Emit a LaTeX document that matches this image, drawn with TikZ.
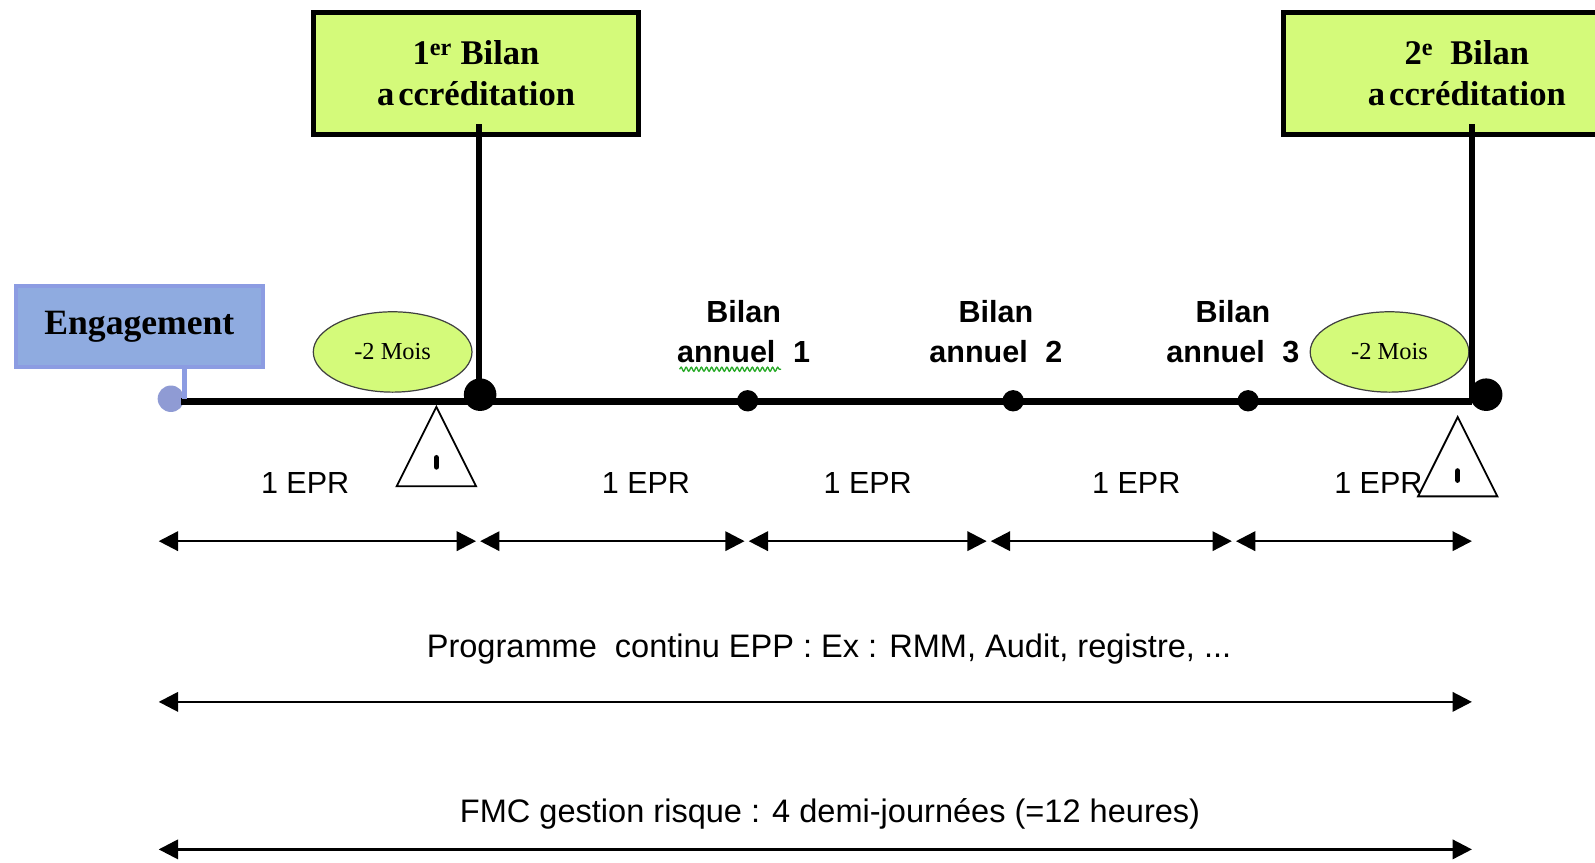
\documentclass[tikz,border=0pt]{standalone}
\usepackage{fontspec}
\setmainfont{Liberation Serif}
\setsansfont{Liberation Sans}
\usetikzlibrary{arrows.meta,shapes.geometric,decorations.pathmorphing}
\definecolor{accgreen}{RGB}{212,250,122}
\definecolor{engfill}{RGB}{143,171,224}
\definecolor{engdraw}{RGB}{140,156,226}
\definecolor{engdot}{RGB}{143,155,212}
\definecolor{wavygreen}{RGB}{40,170,40}
\tikzset{
  accbox/.style={draw=black, line width=5pt, fill=accgreen, minimum height=120pt, inner sep=0pt, align=center, font=\fontsize{34}{41}\selectfont\bfseries},
  engbox/.style={draw=engdraw, line width=4pt, fill=engfill, minimum width=243pt, minimum height=80pt, inner sep=0pt, font=\fontsize{35}{40}\selectfont\bfseries},
  moisell/.style={ellipse, draw=black!75, line width=1.2pt, fill=accgreen, minimum width=156pt, minimum height=79pt, inner sep=0pt, font=\fontsize{24}{28}\selectfont},
  bigdot/.style={circle, fill=black, minimum size=32pt, inner sep=0pt},
  smalldot/.style={circle, fill=black, minimum size=21pt, inner sep=0pt},
  engdotstyle/.style={circle, fill=engdot, minimum size=26pt, inner sep=0pt},
  annlabel/.style={align=center, font=\sffamily\bfseries\fontsize{30}{39}\selectfont},
  eprlabel/.style={font=\sffamily\fontsize{30}{34}\selectfont},
  spanlabel/.style={font=\sffamily\fontsize{32}{36}\selectfont},
  warntri/.style={isosceles triangle, isosceles triangle stretches, shape border rotate=90, draw=black, line width=1.8pt, minimum width=78pt, minimum height=78pt, inner sep=0pt, outer sep=0pt},
  warnmark/.style={line width=5.5pt, line cap=round},
  timeline/.style={line width=6.5pt},
  vline/.style={line width=6pt},
  engline/.style={draw=engdraw, line width=5pt},
  wavyline/.style={draw=wavygreen, line width=1.3pt, decorate, decoration={snake, amplitude=2pt, segment length=5pt}},
  spanarrow/.style={line width=2.5pt, {Triangle[length=19pt,width=19pt]}-{Triangle[length=19pt,width=19pt]}},
}
\begin{document}
\begin{tikzpicture}[x=1pt,y=-1pt]
\useasboundingbox (0,0) rectangle (1568,848);
\clip (0,0) rectangle (1568,848);
% ellipses
\node[moisell] (m1) at (386,346) {-2 Mois};
\node[moisell] (m2) at (1366,346) {-2 Mois};
% engagement
\node[engbox] (eng) at (137,321) {Engagement};
\node[engdotstyle] (edot) at (168,392) {};
% timeline
\coordinate (t0) at (178,395);
\coordinate (tend) at (1447,395);
\draw[timeline] (t0) -- (tend);
\draw[engline] (edot.east |- eng.south) -- (edot.east);
% accreditation boxes
\node[accbox, minimum width=320pt] (b1) at (468,72) {1\textsuperscript{er} Bilan\\a\kern4pt ccréditation};
\node[accbox, minimum width=360pt] (b2) at (1442,72) {2\textsuperscript{e}\ \ Bilan\\a\kern4pt ccréditation};
\coordinate (v1top) at (471,122);
\coordinate (v2top) at (1447,122);
\node[bigdot] (d1) at (472,388) {};
\node[bigdot] (d2) at (1461,388) {};
\draw[vline] (v1top) -- (v1top |- d1.center);
\draw[vline] (v2top) -- (tend);
% small dots
\node[smalldot] (s1) at (735,394) {};
\node[smalldot] (s2) at (996,394) {};
\node[smalldot] (s3) at (1227,394) {};
% annual labels
\node[annlabel] (ba1) at (731,326) {Bilan\\annuel\hspace{0.3em} 1};
\node[annlabel] (ba2) at (979,326) {Bilan\\annuel\hspace{0.3em} 2};
\node[annlabel] (ba3) at (1212,326) {Bilan\\annuel\hspace{0.3em} 3};
\draw[wavyline] (668,363) -- (768,363);
% EPR labels
\node[eprlabel] (e1) at (300,475) {1 EPR};
\node[eprlabel] (e2) at (635,475) {1 EPR};
\node[eprlabel] (e3) at (853,475) {1 EPR};
\node[eprlabel] (e4) at (1117,475) {1 EPR};
\node[eprlabel] (e5) at (1355,475) {1 EPR};
% warning triangles
\node[warntri, anchor=apex] (w1) at (429,400) {};
\node[warntri, anchor=apex] (w2) at (1433,410) {};
\draw[warnmark] ([yshift=-50pt]w1.apex) -- ([yshift=-59pt]w1.apex);
\draw[warnmark] ([yshift=-53pt]w2.apex) -- ([yshift=-62pt]w2.apex);
% EPR spans
\coordinate (r0) at (156,532);
\coordinate (r1a) at (468,532);
\coordinate (r1b) at (472,532);
\coordinate (r2a) at (732,532);
\coordinate (r2b) at (736,532);
\coordinate (r3a) at (970,532);
\coordinate (r3b) at (974,532);
\coordinate (r4a) at (1211,532);
\coordinate (r4b) at (1215,532);
\coordinate (r5) at (1447,532);
\draw[spanarrow] (r0) -- (r1a);
\draw[spanarrow] (r1b) -- (r2a);
\draw[spanarrow] (r2b) -- (r3a);
\draw[spanarrow] (r3b) -- (r4a);
\draw[spanarrow] (r4b) -- (r5);
% long spans
\node[spanlabel] (prog) at (815,638) {Programme\ \ continu EPP : Ex : RMM, Audit, registre, ...};
\coordinate (l0) at (156,690);
\coordinate (l1) at (1447,690);
\draw[spanarrow] (l0) -- (l1);
\node[spanlabel] (fmc) at (816,800) {FMC gestion risque : 4 demi-journées (=12 heures)};
\coordinate (f0) at (156,835);
\coordinate (f1) at (1447,835);
\draw[spanarrow] (f0) -- (f1);
\end{tikzpicture}
\end{document}
